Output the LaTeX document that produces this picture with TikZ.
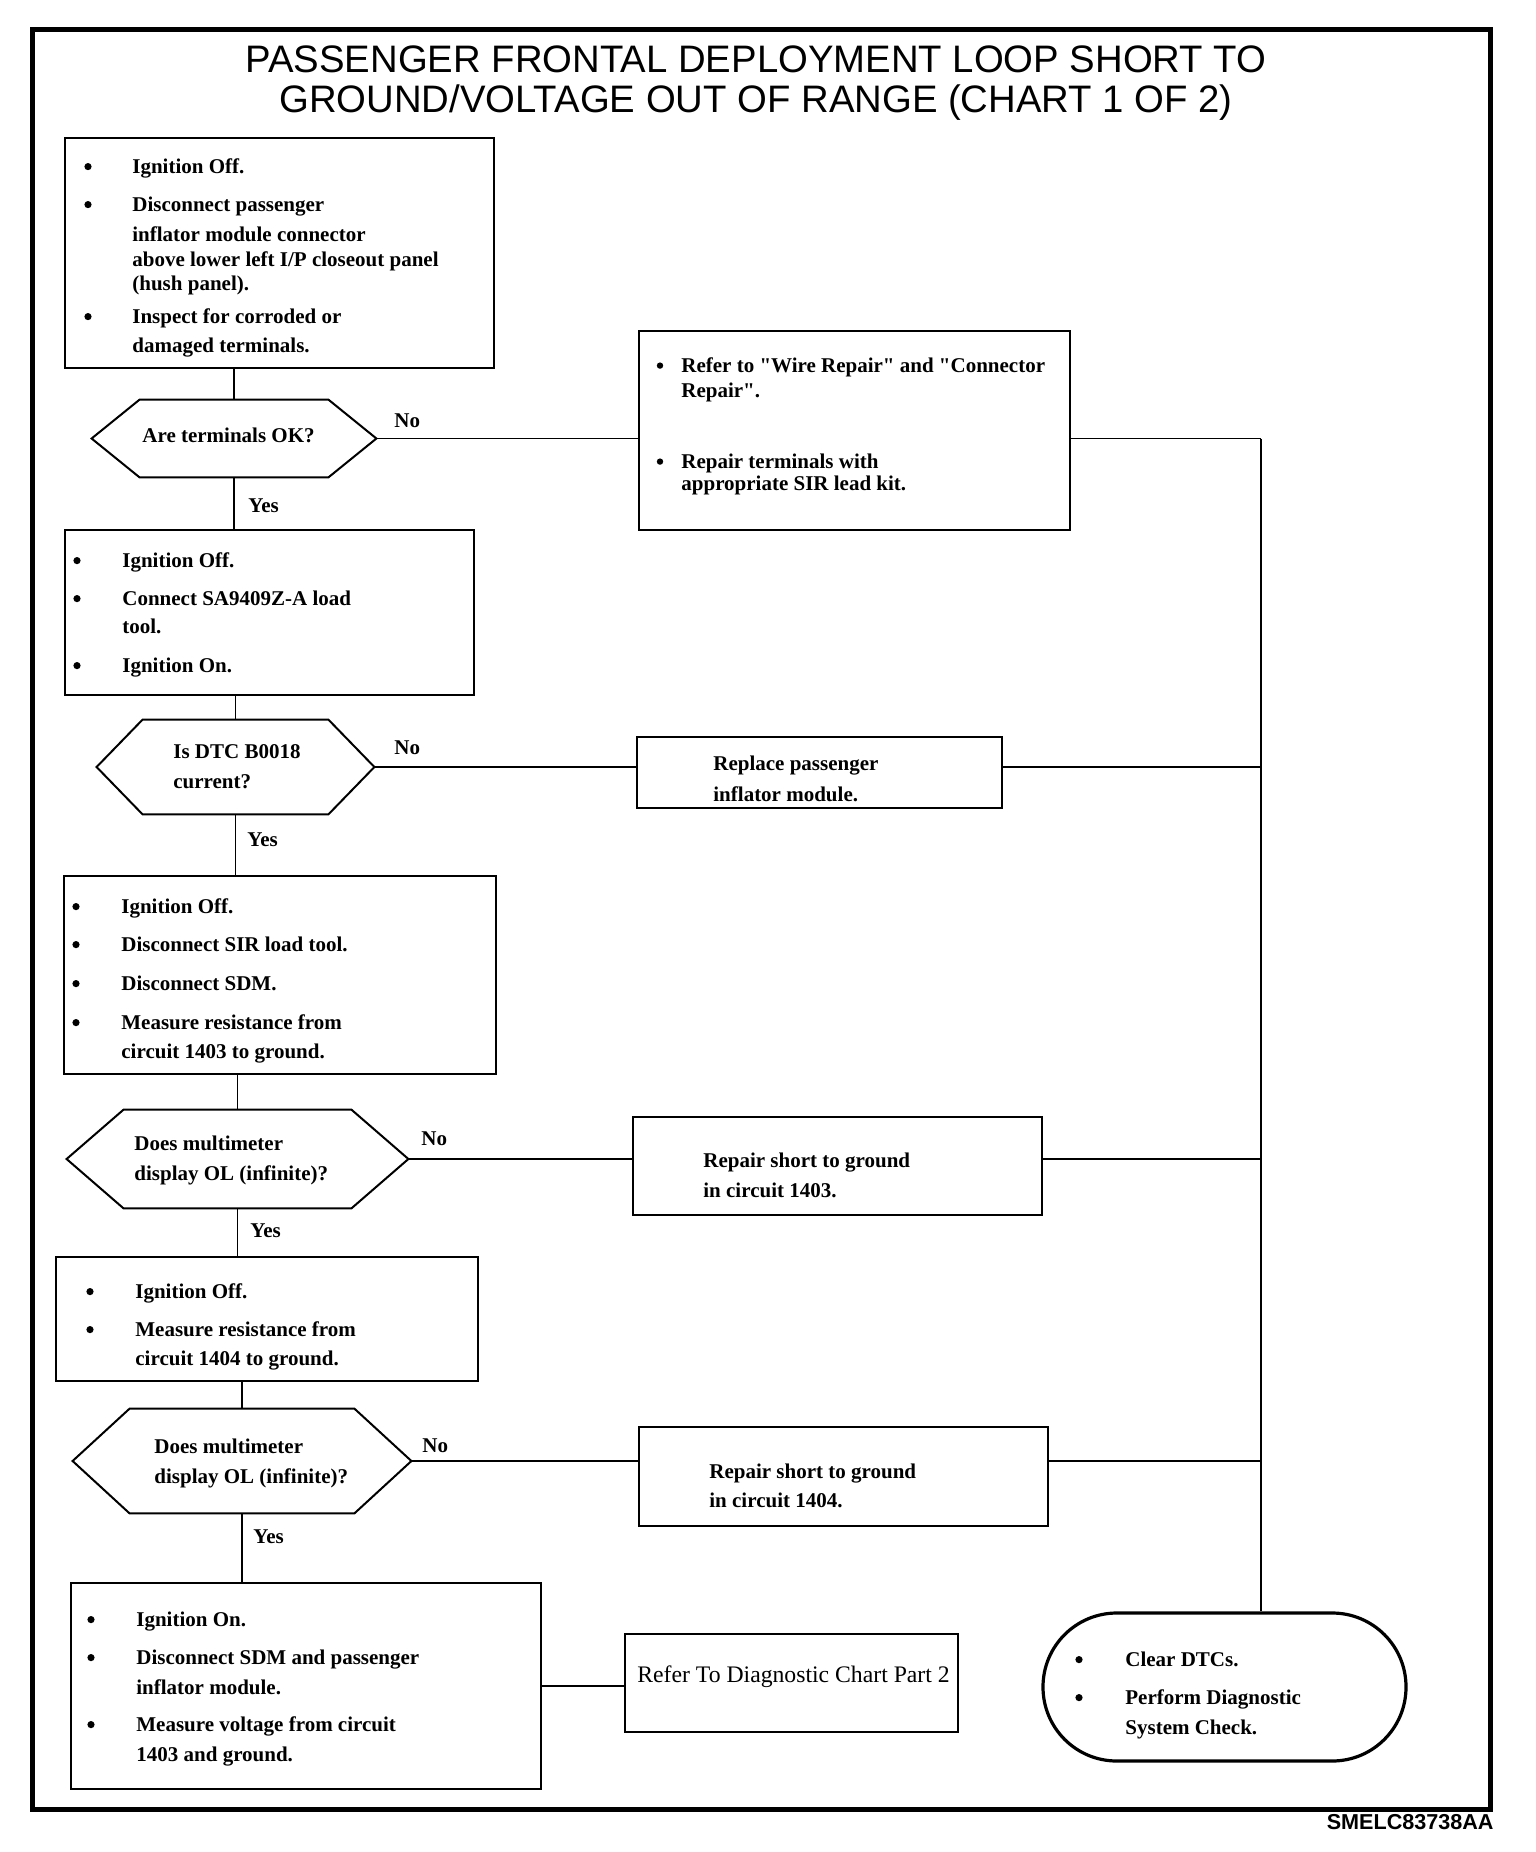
\documentclass[tikz,border=0pt]{standalone}
\usepackage{fontspec}
\setmainfont{Liberation Serif}[Ligatures=TeXOff]
\newfontfamily\titlefont{Liberation Sans}
\usetikzlibrary{calc,fit}
\begin{document}
\begin{tikzpicture}[x=0.5pt,y=-0.5pt,
  box/.style={draw, line width=1.2pt, inner sep=0pt},
  hexfit/.style={inner sep=0pt},
  hexline/.style={draw, line width=1pt, line join=miter},
  conn/.style={line width=0.75pt},
  txt/.style={anchor=base west, inner sep=0pt, font=\fontsize{10.5}{12}\selectfont\bfseries},
  bul/.style={anchor=center, circle, fill=black, inner sep=0pt, minimum size=3.6pt, yshift=3.2pt},
  lbl/.style={anchor=base west, inner sep=0pt, font=\fontsize{10.5}{12}\selectfont\bfseries},
  ttl/.style={anchor=base, inner sep=0pt, font=\titlefont\fontsize{19.15}{22}\selectfont},
]
\newcommand\hexdraw[2]{\draw[hexline] (#1.west) -- ($(#1.north west)+(#2,0)$) -- ($(#1.north east)-(#2,0)$) -- (#1.east) -- ($(#1.south east)-(#2,0)$) -- ($(#1.south west)+(#2,0)$) -- cycle;}
\fill[white] (0,0) rectangle (1536,1852);
\useasboundingbox (0,0) rectangle (1536,1852);
% frame
\draw[line width=2.5pt] (32,29) rectangle (1490,1809);
% title
\node[ttl] (title1) at (756,72.5) {PASSENGER FRONTAL DEPLOYMENT LOOP SHORT TO};
\node[ttl] (title2) at (756,112) {GROUND/VOLTAGE OUT OF RANGE (CHART 1 OF 2)};
\node[anchor=base east, inner sep=0pt, font=\titlefont\fontsize{10.8}{12}\selectfont\bfseries] (code) at (1494,1829) {SMELC83738AA};

% boxes
\node[box, fit={(65,138) (494,368)}] (b1) {};
\node[box, fit={(639,331) (1070,530)}] (b2) {};
\node[box, fit={(65,530) (474,695)}] (b3) {};
\node[box, fit={(637,737) (1002,808)}] (r1) {};
\node[box, fit={(64,876) (496,1074)}] (b4) {};
\node[box, fit={(633,1117) (1042,1215)}] (r2) {};
\node[box, fit={(56,1257) (478,1381)}] (b6) {};
\node[box, fit={(639,1427) (1048,1526)}] (r3) {};
\node[box, fit={(71,1583) (541,1789)}] (b8) {};
\node[box, line width=1pt, fit={(625,1634) (958,1732)}] (ref) {};
\node[draw, line width=1.6pt, inner sep=0pt, rounded corners=36.9pt, fit={(1043,1613) (1406,1761)}] (term) {};

% hexagons
\node[hexfit, fit={(92,400) (376,477)}] (h1) {};
\node[hexfit, fit={(97,720) (374,814)}] (h2) {};
\node[hexfit, fit={(67,1110) (408,1208)}] (h3) {};
\node[hexfit, fit={(73,1409) (411,1513)}] (h4) {};
\hexdraw{h1}{48}
\hexdraw{h2}{46}
\hexdraw{h3}{57}
\hexdraw{h4}{57}

% connectors
\coordinate (bus) at (1261,435);
\draw[conn] (h1.north |- b1.south) -- (h1.north);
\draw[conn] (h1.south) -- (h1.south |- b3.north);
\draw[conn] (h2.north |- b3.south) -- (h2.north);
\draw[conn] (h2.south) -- (h2.south |- b4.north);
\draw[conn] (h3.north |- b4.south) -- (h3.north);
\draw[conn] (h3.south) -- (h3.south |- b6.north);
\draw[conn] (h4.north |- b6.south) -- (h4.north);
\draw[conn] (h4.south) -- (h4.south |- b8.north);
\draw[conn] (h1.east) -- (h1.east -| b2.west);
\draw[conn] (h2.east) -- (h2.east -| r1.west);
\draw[conn] (h3.east) -- (h3.east -| r2.west);
\draw[conn] (h4.east) -- (h4.east -| r3.west);
\draw[conn] (b8.east) -- (b8.east -| ref.west);
\draw[conn] (b2.east |- h1.east) -- (h1.east -| bus);
\draw[conn, line width=1.1pt] (r1.east |- h2.east) -- (h2.east -| bus);
\draw[conn] (r2.east |- h3.east) -- (h3.east -| bus);
\draw[conn] (r3.east |- h4.east) -- (h4.east -| bus);
\draw[conn] (h1.east -| bus) -- (h3.east -| bus);
\draw[conn, line width=1.3pt] (h3.east -| bus) -- (term.north -| bus);

% labels
\node[lbl] (no1) at (394,427) {No};
\node[lbl] (yes1) at (248,512) {Yes};
\node[lbl] (no2) at (394,754) {No};
\node[lbl] (yes2) at (247,846) {Yes};
\node[lbl] (no3) at (421,1145) {No};
\node[lbl] (yes3) at (250,1237) {Yes};
\node[lbl] (no4) at (422,1452) {No};
\node[lbl] (yes4) at (253,1543) {Yes};

% box 1 text
\node[bul] (b1p1) at (88,173) {};
\node[txt] (b1t1) at (132,173) {Ignition Off.};
\node[bul] (b1p2) at (88,211) {};
\node[txt] (b1t2) at (132,211) {Disconnect passenger};
\node[txt] (b1t3) at (132,241) {inflator module connector};
\node[txt] (b1t4) at (132,266) {above lower left I/P closeout panel};
\node[txt] (b1t5) at (132,290) {(hush panel).};
\node[bul] (b1p3) at (88,323) {};
\node[txt] (b1t6) at (132,323) {Inspect for corroded or};
\node[txt] (b1t7) at (132,352) {damaged terminals.};

% hex 1 text
\node[txt] (h1t) at (142,442) {Are terminals OK?};

% box 2 text
\node[bul, minimum size=3.2pt] (b2p1) at (660,372) {};
\node[txt] (b2t1) at (681,372) {Refer to "Wire Repair" and "Connector};
\node[txt] (b2t2) at (681,397) {Repair".};
\node[bul, minimum size=3.2pt] (b2p2) at (660,468) {};
\node[txt] (b2t3) at (681,468) {Repair terminals with};
\node[txt] (b2t4) at (681,490) {appropriate SIR lead kit.};

% box 3 text
\node[bul] (b3p1) at (77,567) {};
\node[txt] (b3t1) at (122,567) {Ignition Off.};
\node[bul] (b3p2) at (77,605) {};
\node[txt] (b3t2) at (122,605) {Connect SA9409Z-A load};
\node[txt] (b3t3) at (122,633) {tool.};
\node[bul] (b3p3) at (77,672) {};
\node[txt] (b3t4) at (122,672) {Ignition On.};

% hex 2 text
\node[txt] (h2t1) at (173,758) {Is DTC B0018};
\node[txt] (h2t2) at (173,788) {current?};

% replace box text
\node[txt] (r1t1) at (713,770) {Replace passenger};
\node[txt] (r1t2) at (713,801) {inflator module.};

% box 4 text
\node[bul] (b4p1) at (76,913) {};
\node[txt] (b4t1) at (121,913) {Ignition Off.};
\node[bul] (b4p2) at (76,951) {};
\node[txt] (b4t2) at (121,951) {Disconnect SIR load tool.};
\node[bul] (b4p3) at (76,990) {};
\node[txt] (b4t3) at (121,990) {Disconnect SDM.};
\node[bul] (b4p4) at (76,1029) {};
\node[txt] (b4t4) at (121,1029) {Measure resistance from};
\node[txt] (b4t5) at (121,1058) {circuit 1403 to ground.};

% hex 3 text
\node[txt] (h3t1) at (134,1150) {Does multimeter};
\node[txt] (h3t2) at (134,1180) {display OL (infinite)?};

% repair 1403 text
\node[txt] (r2t1) at (703,1167) {Repair short to ground};
\node[txt] (r2t2) at (703,1197) {in circuit 1403.};

% box 6 text
\node[bul] (b6p1) at (90,1298) {};
\node[txt] (b6t1) at (135,1298) {Ignition Off.};
\node[bul] (b6p2) at (90,1336) {};
\node[txt] (b6t2) at (135,1336) {Measure resistance from};
\node[txt] (b6t3) at (135,1365) {circuit 1404 to ground.};

% hex 4 text
\node[txt] (h4t1) at (154,1453) {Does multimeter};
\node[txt] (h4t2) at (154,1483) {display OL (infinite)?};

% repair 1404 text
\node[txt] (r3t1) at (709,1478) {Repair short to ground};
\node[txt] (r3t2) at (709,1507) {in circuit 1404.};

% box 8 text
\node[bul] (b8p1) at (91,1626) {};
\node[txt] (b8t1) at (136,1626) {Ignition On.};
\node[bul] (b8p2) at (91,1664) {};
\node[txt] (b8t2) at (136,1664) {Disconnect SDM and passenger};
\node[txt] (b8t3) at (136,1694) {inflator module.};
\node[bul] (b8p3) at (91,1731) {};
\node[txt] (b8t4) at (136,1731) {Measure voltage from circuit};
\node[txt] (b8t5) at (136,1761) {1403 and ground.};

% refer box text
\node[anchor=base west, inner sep=0pt, font=\fontsize{11.85}{14}\selectfont] (reft) at (637,1682) {Refer To Diagnostic Chart Part 2};

% terminal text
\node[bul] (tp1) at (1079,1666) {};
\node[txt] (tt1) at (1125,1666) {Clear DTCs.};
\node[bul] (tp2) at (1079,1704) {};
\node[txt] (tt2) at (1125,1704) {Perform Diagnostic};
\node[txt] (tt3) at (1125,1734) {System Check.};
\end{tikzpicture}
\end{document}
